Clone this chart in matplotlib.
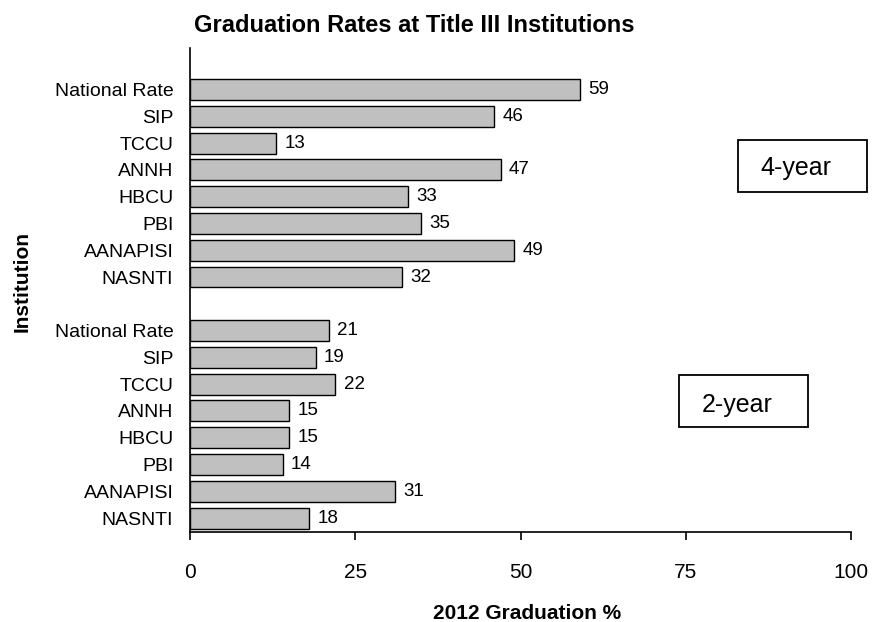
import matplotlib.pyplot as plt
from matplotlib.patches import Rectangle

plt.rcParams['font.family'] = ['Liberation Sans', 'DejaVu Sans']

institutions = ['National Rate', 'SIP', 'TCCU', 'ANNH', 'HBCU', 'PBI', 'AANAPISI', 'NASNTI']
rates_4yr = [59, 46, 13, 47, 33, 35, 49, 32]
rates_2yr = [21, 19, 22, 15, 15, 14, 31, 18]
xticks = [0, 25, 50, 75, 100]

labels = institutions + [''] + institutions
values = rates_4yr + [None] + rates_2yr
ypos = [i for i, v in enumerate(values) if v is not None]
vals = [v for v in values if v is not None]
names = [labels[i] for i in ypos]

W, H = 872, 622
fig = plt.figure(figsize=(W / 100, H / 100), dpi=100)
ax = fig.add_axes([190 / W, 1 - 532 / H, (851 - 190) / W, (532 - 48) / H])

ax.barh(ypos, vals, height=0.78, color='#c0c0c0', edgecolor='black', linewidth=1)
for y, v in zip(ypos, vals):
    ax.annotate(str(v), (v, y), xytext=(6, 0), textcoords='offset points',
                va='center', ha='left', fontsize=13.5)

ax.set_xlim(0, 100)
ax.set_ylim(16.52, -1.55)
ax.set_xticks(xticks)
ax.set_xticklabels([str(t) for t in xticks], fontsize=15)
ax.set_yticks(ypos)
ax.set_yticklabels(names, fontsize=14)
ax.tick_params(axis='y', length=0, pad=12)
ax.tick_params(axis='x', length=6, width=1.2, pad=16, direction='out')
ax.spines['top'].set_visible(False)
ax.spines['right'].set_visible(False)
ax.spines['left'].set_linewidth(1.2)
ax.spines['bottom'].set_linewidth(1.2)

fig.text(414 / W, 1 - 32 / H, 'Graduation Rates at Title III Institutions',
         ha='center', va='baseline', fontsize=17, fontweight='bold')
fig.text(527 / W, 1 - 619 / H, '2012 Graduation %', ha='center', va='baseline',
         fontsize=15, fontweight='bold')
fig.text(22 / W, 1 - 282 / H, 'Institution', ha='center', va='center',
         rotation=90, fontsize=15, fontweight='bold')

# group boxes
boxes = [((738, 140, 867, 192), '4-year', 796, 175), ((679, 375, 808, 427), '2-year', 737, 412)]
for (x0, y0, x1, y1), txt, tx, ty in boxes:
    fig.add_artist(Rectangle((x0 / W, 1 - y1 / H), (x1 - x0) / W, (y1 - y0) / H,
                             transform=fig.transFigure, fill=False, edgecolor='black', linewidth=1.3))
    fig.text(tx / W, 1 - ty / H, txt, ha='center', va='baseline', fontsize=18)

fig.savefig('out.png', dpi=100)
